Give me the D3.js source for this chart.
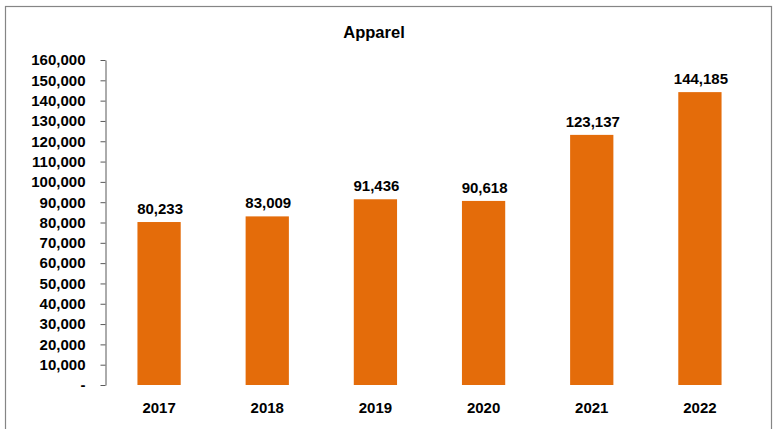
<!DOCTYPE html>
<html>
<head>
<meta charset="utf-8">
<script src="https://cdn.jsdelivr.net/npm/d3@7"></script>
<style>
  html, body { margin: 0; padding: 0; background: #fff; }
  svg { display: block; }
  text { font-family: "Liberation Sans", Arial, sans-serif; font-weight: bold; fill: #000; }
</style>
</head>
<body>
<svg id="chart" width="778" height="429"></svg>
<script>
const title = "Apparel";
const categories = ["2017", "2018", "2019", "2020", "2021", "2022"];
const values = [80233, 83009, 91436, 90618, 123137, 144185];
const yTicks = [0, 10000, 20000, 30000, 40000, 50000, 60000, 70000, 80000, 90000,
                100000, 110000, 120000, 130000, 140000, 150000, 160000];

const svg = d3.select("#chart");

// outer chart border
svg.append("rect")
  .attr("x", 5.5).attr("y", 6.5)
  .attr("width", 766).attr("height", 440)
  .attr("fill", "#fff")
  .attr("stroke", "#858585")
  .attr("stroke-width", 1.2);

const x = d3.scaleBand()
  .domain(categories)
  .range([105, 754])
  .paddingInner(0.6)
  .paddingOuter(0.3);

const y = d3.scaleLinear()
  .domain([0, 160000])
  .range([385, 60]);

// title
svg.append("text")
  .attr("x", 374).attr("y", 38)
  .attr("text-anchor", "middle")
  .style("font-size", "16.5px")
  .text(title);

// bars
svg.append("g").selectAll("rect")
  .data(values)
  .join("rect")
  .attr("x", (d, i) => x(categories[i]))
  .attr("y", d => y(d))
  .attr("width", x.bandwidth())
  .attr("height", d => y(0) - y(d))
  .attr("fill", "#E46C0A");

// value labels
const fmt = d3.format(",");
svg.append("g").selectAll("text")
  .data(values)
  .join("text")
  .attr("x", (d, i) => x(categories[i]) + x.bandwidth() / 2 + 1)
  .attr("y", d => y(d) - 8)
  .attr("text-anchor", "middle")
  .style("font-size", "15px")
  .text(d => fmt(d));

// y axis
const yAxis = d3.axisLeft(y)
  .tickValues(yTicks)
  .tickSize(5)
  .tickSizeOuter(0)
  .tickPadding(15)
  .tickFormat(d => d === 0 ? "-" : fmt(d));

const gy = svg.append("g")
  .attr("transform", "translate(105.5,0)")
  .call(yAxis);
gy.select(".domain").attr("stroke", "#595959");
gy.selectAll(".tick line").attr("stroke", "#595959");
gy.selectAll(".tick text")
  .style("font-size", "15px")
  .style("font-family", "'Liberation Sans', Arial, sans-serif")
  .style("font-weight", "bold")
  .attr("fill", "#000");

// category labels
svg.append("g").selectAll("text")
  .data(categories)
  .join("text")
  .attr("x", d => x(d) + x.bandwidth() / 2)
  .attr("y", 413)
  .attr("text-anchor", "middle")
  .style("font-size", "15px")
  .text(d => d);
</script>
</body>
</html>
